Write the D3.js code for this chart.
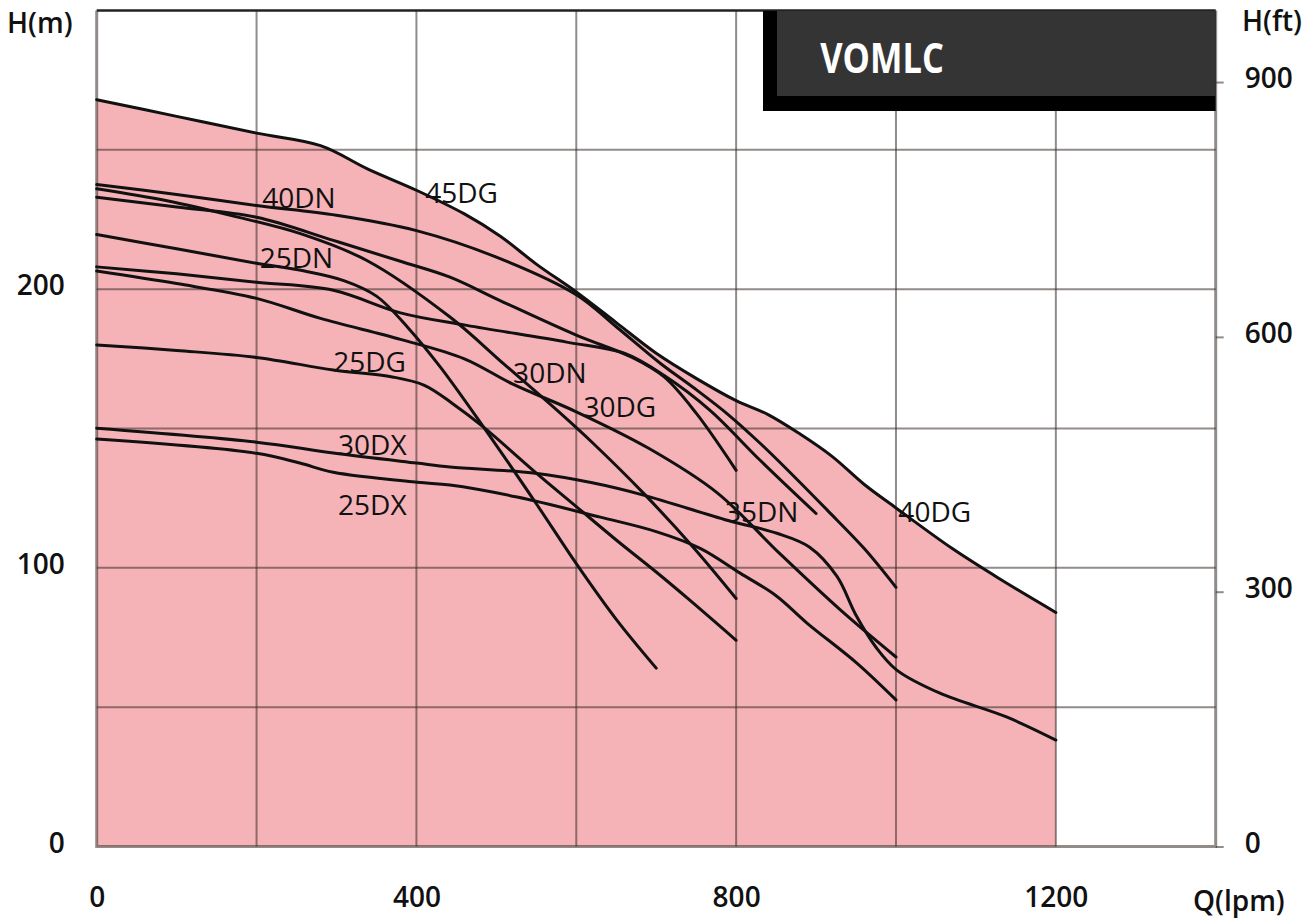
<!DOCTYPE html>
<html>
<head>
<meta charset="utf-8">
<script src="https://cdn.jsdelivr.net/npm/d3@7"></script>
<style>
  html, body { margin: 0; padding: 0; background: #fff; }
  svg { display: block; }
  text { font-family: "Open Sans", "Noto Sans", sans-serif; }
</style>
</head>
<body>
<svg id="chart"></svg>
<script>
// tick values
const flowTicks = [0, 400, 800, 1200];
const headTicks = [0, 100, 200];
const feetTicks = [0, 300, 600, 900];

// pump curves, [Q (lpm), H (m)]
const curve45DG = [[0,268],[100,262],[200,256],[280,251.5],[340,243],[400,235.5],[460,227],[505,219],[550,209],[600,199],[650,188],[700,177],[750,168],[800,160],[840,155],[880,148],[920,140],[960,130],[1000,121.5],[1070,107],[1130,96],[1200,84]];
const curve40DN = [[0,237.6],[100,234],[200,230],[300,226.5],[400,221],[500,211.5],[600,198],[650,186.5],[705,173.4],[746,164.8],[790,155],[830,144.7],[870,133.5],[914,120.7],[960,107],[1000,93]];
const curve30DN = [[0,236],[88,231.7],[170,226.3],[254,220],[338,210.3],[442,190],[510,173],[580,155.5],[621,144.7],[684,126.8],[746,107.5],[800,89]];
const curve40DG = [[0,233],[100,229.5],[200,225.8],[296,217.5],[380,210],[442,204.3],[504,196],[600,183.5],[670,175.5],[710,168.5],[750,155.5],[800,135]];
const curve35DN = [[0,208],[100,205.5],[200,202.5],[296,199.6],[380,191.5],[463,187],[588,181],[660,177],[710,169],[767,156.6],[830,138.6],[900,119.5]];
const curve30DG = [[0,206.5],[100,202],[200,196.7],[280,189.5],[380,182],[460,175],[520,166],[600,156],[690,143],[776,127],[855,105],[930,85],[1000,68]];
const curve25DN = [[0,219.6],[100,214.5],[200,209.3],[260,206.5],[310,203],[350,197.5],[390,186],[430,172],[484,150.5],[550,123],[600,101.5],[650,81.5],[700,64]];
const curve25DG = [[0,180],[100,178],[200,175.5],[296,171],[370,168.5],[410,165.5],[445,159],[484,150.5],[550,134],[600,122],[650,110],[700,98.5],[742,88.4],[800,74]];
const curve30DX = [[0,150.1],[200,145.1],[296,141.2],[400,137.6],[442,136.2],[546,134],[620,130.5],[684,126.1],[790,117],[851,112.4],[892,107.4],[926,97],[950,83],[975,71.5],[1001,63.3],[1055,55],[1139,46.4],[1200,38.2]];
const curve25DX = [[0,146.2],[200,141.1],[254,137.6],[296,134.3],[401,130.7],[442,129.7],[526,125.4],[630,118.2],[700,113],[755,107],[805,98.1],[850,90],[889,80.1],[951,65.8],[1000,52.6]];

const curves = [curve45DG, curve40DN, curve30DN, curve40DG, curve35DN, curve30DG, curve25DN, curve25DG, curve30DX, curve25DX];

// model labels, anchored in data units (left end of baseline)
const labelNames = ["40DN", "45DG", "25DN", "25DG", "30DX", "25DX", "30DN", "30DG", "35DN", "40DG"];
const labelQ = [207, 411, 204, 296, 302, 302, 521, 609, 786, 1003];
const labelH = [229, 230.8, 207.5, 170.2, 140.6, 118.9, 166.2, 154, 116.4, 116.4];

const margin = { top: 10.5, right: 90.3, bottom: 75.5, left: 96.7 };
const width = 1306 - margin.left - margin.right;
const height = 922 - margin.top - margin.bottom;

const svgRoot = d3.select('#chart')
  .attr('width', 1306)
  .attr('height', 922);

const svg = svgRoot.append('g')
  .attr('transform', `translate(${margin.left}, ${margin.top})`);

const x = d3.scaleLinear().domain([0, 1400]).range([0, width]);
const y = d3.scaleLinear().domain([0, 300]).range([height, 0]);
const yFt = d3.scaleLinear().domain([0, 300 / 0.3048]).range([height, 0]);

const smooth = d3.curveCatmullRom.alpha(0.5);

// pink operating range under the top curve
const area = d3.area()
  .x(d => x(d[0]))
  .y0(height)
  .y1(d => y(d[1]))
  .curve(smooth);

svg.append('path')
  .datum(curve45DG)
  .attr('d', area)
  .attr('fill', '#f5b3b8');

// grid
const gridColor = 'rgba(55,45,40,0.55)';
svg.append('g')
  .selectAll('line')
  .data(d3.range(200, 1400, 200))
  .join('line')
  .attr('x1', d => x(d)).attr('x2', d => x(d))
  .attr('y1', 0).attr('y2', height)
  .attr('stroke', gridColor)
  .attr('stroke-width', 2);

svg.append('g')
  .selectAll('line')
  .data(d3.range(50, 300, 50))
  .join('line')
  .attr('x1', 0).attr('x2', width)
  .attr('y1', d => y(d)).attr('y2', d => y(d))
  .attr('stroke', gridColor)
  .attr('stroke-width', 2);

// frame
svg.append('path')
  .attr('d', `M0,0V${height}H${width}V0`)
  .attr('fill', 'none')
  .attr('stroke', gridColor)
  .attr('stroke-width', 3);
svg.append('line')
  .attr('x1', 0).attr('x2', width)
  .attr('y1', 0).attr('y2', 0)
  .attr('stroke', '#222')
  .attr('stroke-width', 2.5);

// curves
const line = d3.line()
  .x(d => x(d[0]))
  .y(d => y(d[1]))
  .curve(smooth);

svg.append('g')
  .selectAll('path')
  .data(curves)
  .join('path')
  .attr('d', line)
  .attr('fill', 'none')
  .attr('stroke', '#111')
  .attr('stroke-width', 3)
  .attr('stroke-linecap', 'round');

svg.append('g')
  .selectAll('text')
  .data(labelNames)
  .join('text')
  .attr('x', (d, i) => x(labelQ[i]))
  .attr('y', (d, i) => y(labelH[i]))
  .attr('font-size', 28)
  .attr('fill', '#111')
  .text(d => d);

// title box
const title = svg.append('g');
title.append('rect')
  .attr('x', 666.3).attr('y', 0.5)
  .attr('width', width - 666.3).attr('height', 100)
  .attr('fill', '#000');
title.append('rect')
  .attr('x', 680.3).attr('y', 0.5)
  .attr('width', width - 680.3).attr('height', 85)
  .attr('fill', '#343434');
title.append('text')
  .attr('transform', 'translate(723.5, 62.5) scale(0.84, 1)')
  .attr('font-size', 41)
  .attr('font-weight', 700)
  .attr('fill', '#fff')
  .text('VOMLC');

// axes
const styleAxis = g => {
  g.select('.domain').remove();
  g.selectAll('text')
    .attr('font-size', 28)
    .attr('font-weight', 600)
    .attr('fill', '#111')
    .style('font-family', '"Open Sans", sans-serif');
};

svg.append('g')
  .call(d3.axisLeft(y).tickValues(headTicks).tickSize(0).tickPadding(32))
  .call(styleAxis)
  .selectAll('text').attr('dy', '0.2em');

svg.append('g')
  .attr('transform', `translate(${width}, 0)`)
  .call(d3.axisRight(yFt).tickValues(feetTicks).tickSize(8).tickPadding(21))
  .call(styleAxis)
  .call(g => g.selectAll('.tick line').attr('stroke', gridColor).attr('stroke-width', 2))
  .selectAll('text').attr('dy', '0.2em');

svg.append('g')
  .attr('transform', `translate(0, ${height})`)
  .call(d3.axisBottom(x).tickValues(flowTicks).tickFormat(d3.format('d')).tickSize(0).tickPadding(41))
  .call(styleAxis);

// axis titles
svgRoot.append('text')
  .attr('x', 7).attr('y', 33)
  .attr('font-size', 28).attr('font-weight', 600).attr('fill', '#111')
  .text('H(m)');

svgRoot.append('text')
  .attr('x', 1242).attr('y', 31)
  .attr('font-size', 28).attr('font-weight', 600).attr('fill', '#111')
  .text('H(ft)');

svgRoot.append('text')
  .attr('x', 1193).attr('y', 911)
  .attr('font-size', 28).attr('font-weight', 600).attr('fill', '#111')
  .text('Q(lpm)');
</script>
</body>
</html>
